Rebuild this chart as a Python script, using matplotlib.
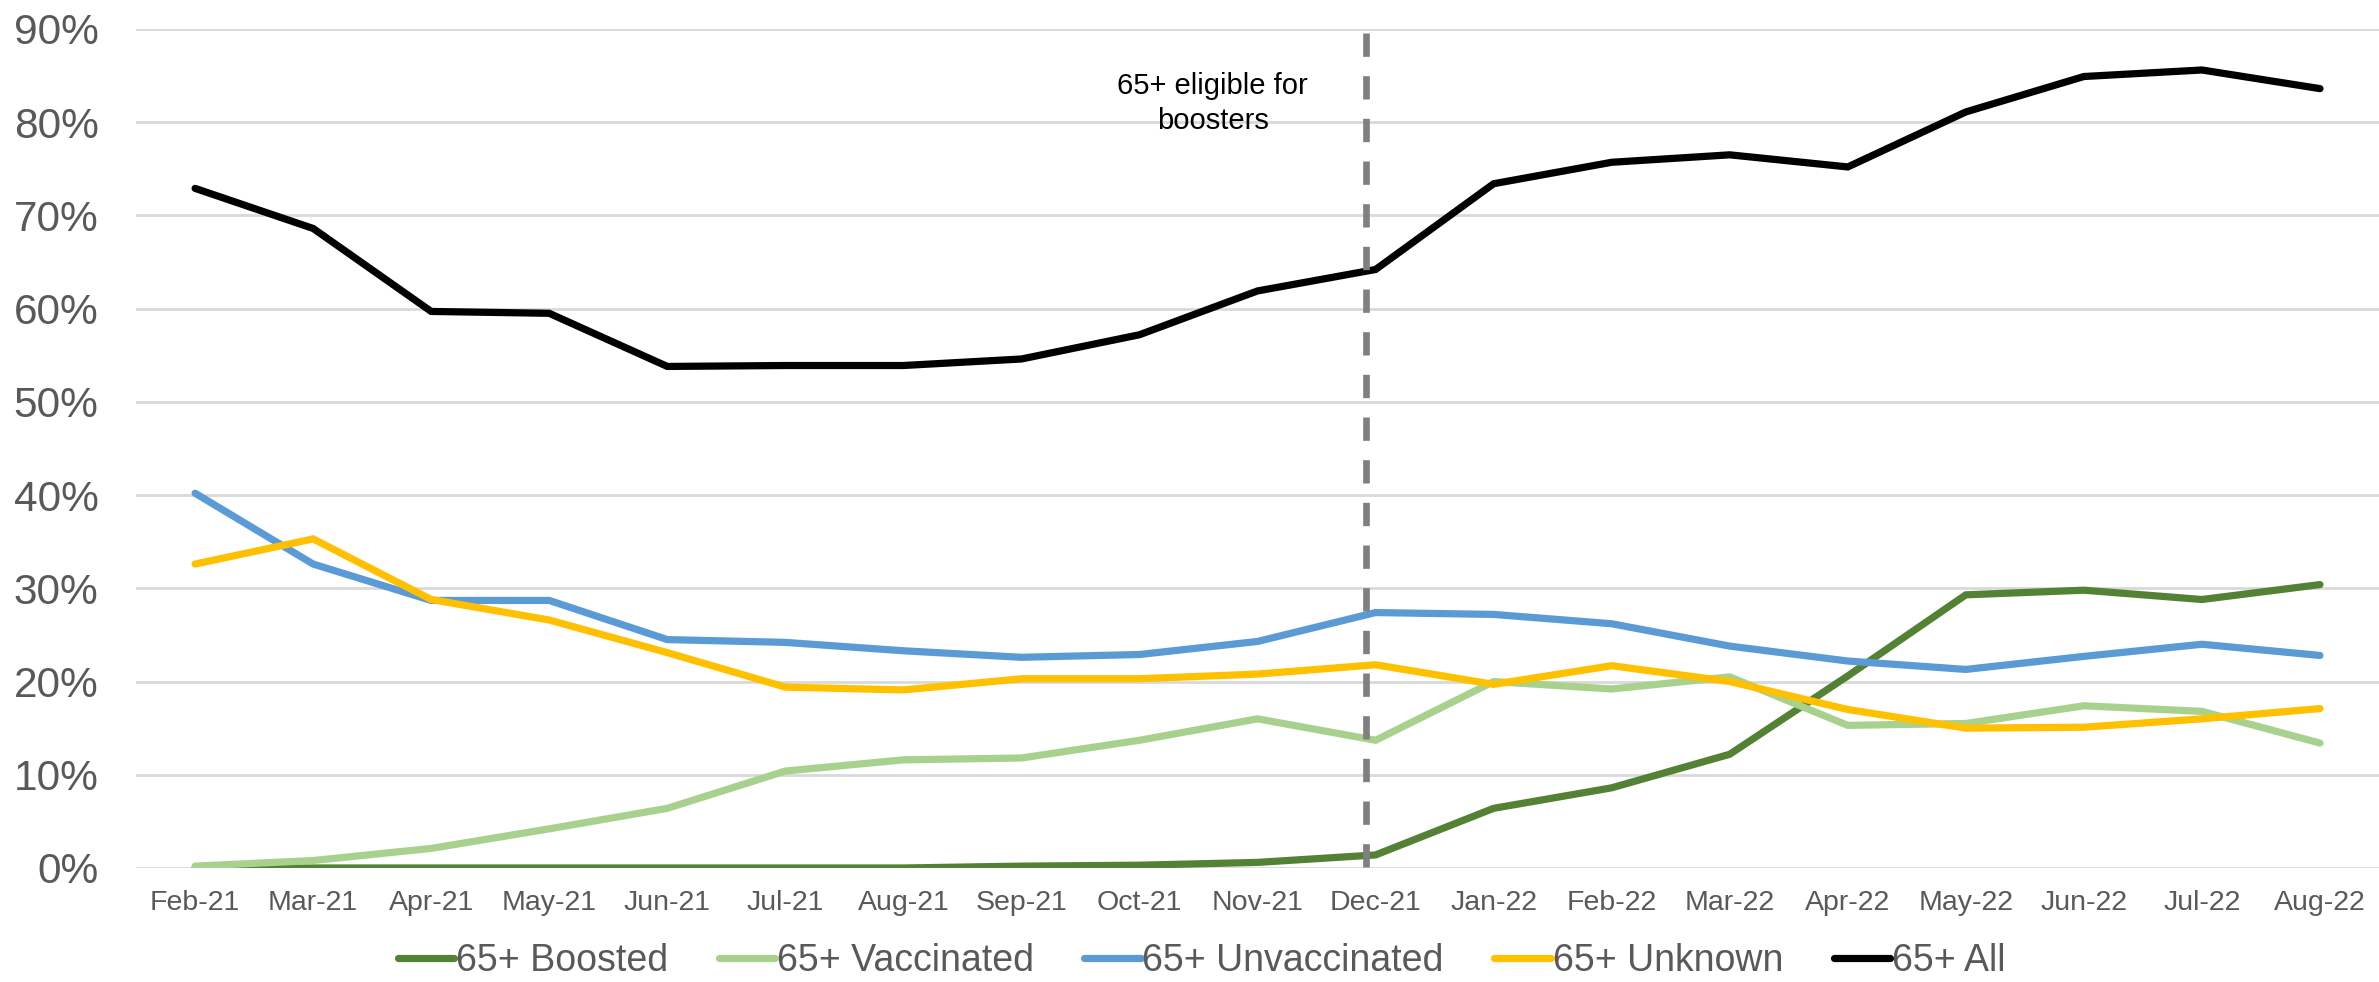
import numpy as np
import matplotlib.pyplot as plt
from matplotlib.ticker import PercentFormatter

plt.rcParams['font.family'] = ['Liberation Sans', 'DejaVu Sans']

MONTHS = ['Feb-21', 'Mar-21', 'Apr-21', 'May-21', 'Jun-21', 'Jul-21', 'Aug-21',
          'Sep-21', 'Oct-21', 'Nov-21', 'Dec-21', 'Jan-22', 'Feb-22', 'Mar-22',
          'Apr-22', 'May-22', 'Jun-22', 'Jul-22', 'Aug-22']

# share of 65+ group, in percent
boosted = [0.0, 0.0, 0.0, 0.0, 0.0, 0.0, 0.0, 0.2, 0.3, 0.6, 1.4, 6.4, 8.6,
           12.2, 20.6, 29.3, 29.8, 28.8, 30.4]
vaccinated = [0.2, 0.8, 2.1, 4.2, 6.4, 10.4, 11.6, 11.8, 13.7, 16.0, 13.7,
              20.0, 19.2, 20.5, 15.3, 15.5, 17.4, 16.8, 13.4]
unvaccinated = [40.2, 32.6, 28.7, 28.7, 24.5, 24.2, 23.3, 22.6, 22.9, 24.3,
                27.4, 27.2, 26.2, 23.8, 22.2, 21.3, 22.7, 24.0, 22.8]
unknown = [32.6, 35.3, 28.8, 26.6, 23.1, 19.4, 19.1, 20.3, 20.3, 20.8, 21.8,
           19.7, 21.7, 20.0, 17.0, 15.0, 15.1, 16.0, 17.1]
all_65 = [72.9, 68.6, 59.7, 59.5, 53.8, 53.9, 53.9, 54.6, 57.2, 61.9, 64.2,
          73.4, 75.7, 76.5, 75.2, 81.1, 84.9, 85.6, 83.6]

SERIES = [
    ('65+ Boosted', boosted, '#548235'),
    ('65+ Vaccinated', vaccinated, '#A9D18E'),
    ('65+ Unvaccinated', unvaccinated, '#5B9BD5'),
    ('65+ Unknown', unknown, '#FFC000'),
    ('65+ All', all_65, '#000000'),
]

BOOSTER_MONTH = 'Dec-21'

fig = plt.figure(figsize=(23.79, 9.82), dpi=100)
ax = fig.add_axes([0.0572, 0.1161, 0.9428, 0.9705 - 0.1161])

x = np.arange(len(MONTHS))
for label, values, color in SERIES:
    ax.plot(x, values, color=color, lw=5.2, label=label,
            solid_joinstyle='miter', solid_capstyle='round')

# booster eligibility marker
xb = MONTHS.index(BOOSTER_MONTH) - 0.08
ax.plot([xb, xb], [89.6, -1.2], color='#808080', lw=4.8,
        dashes=(3.5, 2.9), clip_on=False, zorder=5)
ax.text(xb - 1.3, 82.0, '65+ eligible for\nboosters', ha='center', va='center',
        fontsize=21, color='#000000', linespacing=1.35)

ax.set_xlim(-0.5, len(MONTHS) - 0.5)
ax.set_ylim(0, 90)
ax.set_yticks(np.arange(0, 91, 10))
ax.yaxis.set_major_formatter(PercentFormatter(decimals=0))
ax.set_xticks(x)
ax.set_xticklabels(MONTHS)
ax.grid(axis='y', color='#D9D9D9', lw=2)
ax.set_axisbelow(True)
for s in ax.spines.values():
    s.set_visible(False)
ax.tick_params(axis='y', length=0, pad=27, labelsize=30.5, labelcolor='#595959')
ax.tick_params(axis='x', length=0, pad=16, labelsize=20.5, labelcolor='#595959')

fig.legend(loc='center', bbox_to_anchor=(0.505, 0.021), ncol=5, frameon=False,
           fontsize=27, labelcolor='#595959', handlelength=1.5,
           handletextpad=0.05, columnspacing=1.35)

fig.savefig('out.png', dpi=100)
